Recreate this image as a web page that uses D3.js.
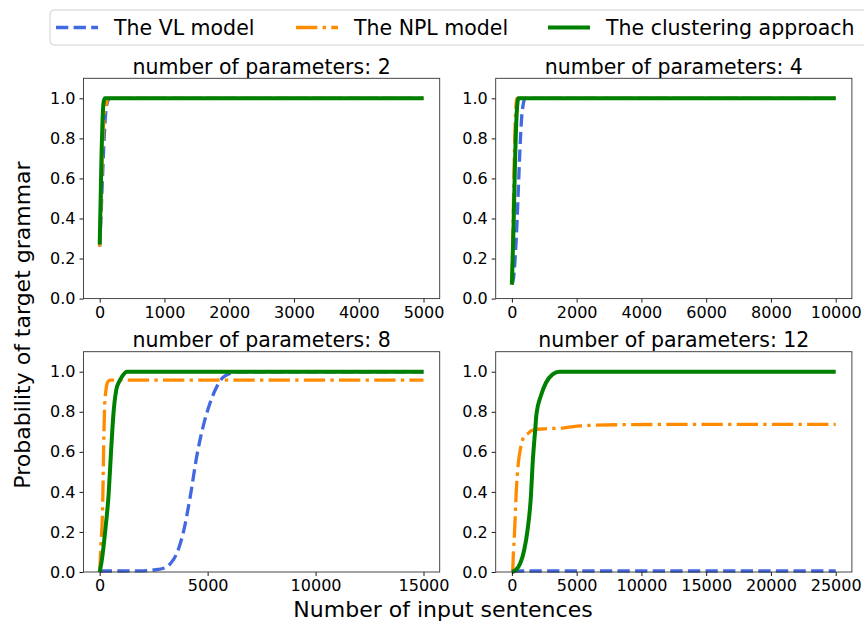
<!DOCTYPE html>
<html lang="en">
<head>
<meta charset="UTF-8">
<title>Probability of target grammar</title>
<script src="https://d3js.org/d3.v7.min.js"></script>
<style>
    body { margin: 0; background: #fff; }
    svg { font-family: "DejaVu Sans", sans-serif; }
</style>
</head>
<body>
<div id="chart"></div>
<script>
    // panel titles and x ranges
    const titles = ["number of parameters: 2", "number of parameters: 4",
                    "number of parameters: 8", "number of parameters: 12"];
    const xMax = [5000, 10000, 15000, 25000];
    const xTicks = [
        [0, 1000, 2000, 3000, 4000, 5000],
        [0, 2000, 4000, 6000, 8000, 10000],
        [0, 5000, 10000, 15000],
        [0, 5000, 10000, 15000, 20000, 25000]
    ];
    const yTicks = [0, 0.2, 0.4, 0.6, 0.8, 1.0];
    const seriesNames = ["The VL model", "The NPL model", "The clustering approach"];

    // panel 1 (2 parameters)
    const p1VlX = [0, 25, 50, 75, 100, 130, 160, 5000];
    const p1VlY = [0.26, 0.45, 0.66, 0.84, 0.95, 0.99, 1.0, 1.0];
    const p1NplX = [0, 20, 40, 60, 80, 100, 130, 5000];
    const p1NplY = [0.26, 0.48, 0.7, 0.87, 0.95, 0.97, 1.0, 1.0];
    const p1ClX = [0, 15, 30, 45, 60, 80, 5000];
    const p1ClY = [0.27, 0.5, 0.74, 0.9, 0.98, 1.0, 1.0];

    // panel 2 (4 parameters)
    const p2VlX = [0, 50, 100, 150, 200, 250, 300, 350, 400, 10000];
    const p2VlY = [0.07, 0.1, 0.2, 0.35, 0.55, 0.75, 0.9, 0.97, 1.0, 1.0];
    const p2NplX = [0, 40, 80, 120, 160, 10000];
    const p2NplY = [0.07, 0.4, 0.75, 0.95, 1.0, 1.0];
    const p2ClX = [0, 50, 100, 150, 200, 10000];
    const p2ClY = [0.07, 0.35, 0.7, 0.93, 1.0, 1.0];

    // panel 3 (8 parameters)
    const p3VlX = [0, 1000, 2000, 2500, 3000, 3300, 3600, 3900, 4200, 4500, 4800, 5100, 5400, 5700, 6000, 6300, 15000];
    const p3VlY = [0.005, 0.005, 0.006, 0.01, 0.02, 0.045, 0.1, 0.21, 0.38, 0.58, 0.73, 0.84, 0.92, 0.97, 0.99, 1.0, 1.0];
    const p3NplX = [0, 60, 140, 185, 230, 280, 340, 420, 500, 15000];
    const p3NplY = [0, 0.14, 0.34, 0.63, 0.83, 0.9, 0.94, 0.955, 0.958, 0.958];
    const p3ClX = [0, 100, 260, 415, 525, 645, 770, 900, 1030, 1260, 15000];
    const p3ClY = [0, 0.06, 0.21, 0.39, 0.6, 0.8, 0.91, 0.95, 0.975, 1.0, 1.0];

    // panel 4 (12 parameters)
    const p4VlX = [0, 25000];
    const p4VlY = [0.005, 0.005];
    const p4NplX = [0, 50, 120, 206, 335, 490, 644, 825, 1000, 1211, 1500, 1727, 2500, 4046, 5335, 9200, 15000, 25000];
    const p4NplY = [0, 0.0, 0.1, 0.2, 0.4, 0.54, 0.61, 0.66, 0.68, 0.69, 0.705, 0.71, 0.715, 0.72, 0.73, 0.736, 0.737, 0.737];
    const p4ClX = [0, 300, 640, 950, 1210, 1470, 1600, 1800, 1900, 2240, 2630, 3140, 3660, 25000];
    const p4ClY = [0, 0.01, 0.042, 0.11, 0.21, 0.38, 0.54, 0.71, 0.79, 0.88, 0.945, 0.987, 1.0, 1.0];

    const panelData = [
        [[p1VlX, p1VlY], [p1NplX, p1NplY], [p1ClX, p1ClY]],
        [[p2VlX, p2VlY], [p2NplX, p2NplY], [p2ClX, p2ClY]],
        [[p3VlX, p3VlY], [p3NplX, p3NplY], [p3ClX, p3ClY]],
        [[p4VlX, p4VlY], [p4NplX, p4NplY], [p4ClX, p4ClY]]
    ];

    const width = 864, height = 626;
    const colors = ["#4169e1", "#ff8c00", "#008000"];
    const dashes = ["12.3,5.3", "21.3,5.3,3.3,5.3", null];
    const widths = [3.3, 3.3, 4];

    const colLeft = [83.5, 495.7], rowTop = [78.3, 351.7];
    const pw = 356.2, ph = 220.3;

    const svg = d3.select("#chart").append("svg")
        .attr("width", width)
        .attr("height", height);

    panelData.forEach((series, i) => {
        const left = colLeft[i % 2], top = rowTop[Math.floor(i / 2)];
        const g = svg.append("g").attr("transform", `translate(${left},${top})`);

        const x = d3.scaleLinear()
            .domain([-0.05 * xMax[i], 1.05 * xMax[i]])
            .range([0, pw]);
        const y = d3.scaleLinear().domain([0, 1.1]).range([ph, 0]);

        // lines
        series.forEach((s, k) => {
            const pts = s[0].map((v, j) => [v, s[1][j]]);
            const line = d3.line()
                .x(d => x(d[0]))
                .y(d => y(d[1]))
                .curve(d3.curveMonotoneX);
            g.append("path")
                .datum(pts)
                .attr("d", line)
                .attr("fill", "none")
                .attr("stroke", colors[k])
                .attr("stroke-width", widths[k])
                .attr("stroke-dasharray", dashes[k]);
        });

        // axes
        const xAxis = g.append("g")
            .attr("transform", `translate(0,${ph})`)
            .call(d3.axisBottom(x).tickValues(xTicks[i]).tickFormat(d3.format("d"))
                .tickSize(4).tickPadding(4));
        const yAxis = g.append("g")
            .call(d3.axisLeft(y).tickValues(yTicks).tickFormat(d3.format(".1f"))
                .tickSize(4).tickPadding(4));
        [xAxis, yAxis].forEach(a => {
            a.select(".domain").remove();
            a.selectAll("text").style("font-size", "16px").attr("fill", "#000")
                .style("font-family", "DejaVu Sans");
            a.selectAll("line").attr("stroke", "#000").attr("stroke-width", 0.9);
        });

        g.append("rect")
            .attr("width", pw)
            .attr("height", ph)
            .attr("fill", "none")
            .attr("stroke", "#333")
            .attr("stroke-width", 0.9);

        g.append("text")
            .attr("x", pw / 2)
            .attr("y", -4.5)
            .attr("text-anchor", "middle")
            .style("font-size", "20.5px")
            .text(titles[i]);
    });

    // axis labels
    svg.append("text")
        .attr("x", 443)
        .attr("y", 617)
        .attr("text-anchor", "middle")
        .style("font-size", "22px")
        .text("Number of input sentences");

    svg.append("text")
        .attr("transform", "translate(30,325) rotate(-90)")
        .attr("text-anchor", "middle")
        .style("font-size", "22px")
        .text("Probability of target grammar");

    // legend
    const legend = svg.append("g");
    legend.append("rect")
        .attr("x", 50)
        .attr("y", 10)
        .attr("width", 830)
        .attr("height", 35)
        .attr("rx", 4)
        .attr("fill", "#fff")
        .attr("fill-opacity", 0.8)
        .attr("stroke", "#d0d0d0");

    const handleX = [56, 296, 548];
    seriesNames.forEach((name, k) => {
        legend.append("line")
            .attr("x1", handleX[k])
            .attr("x2", handleX[k] + 42)
            .attr("y1", 27.5)
            .attr("y2", 27.5)
            .attr("stroke", colors[k])
            .attr("stroke-width", widths[k])
            .attr("stroke-dasharray", dashes[k]);
        legend.append("text")
            .attr("x", handleX[k] + 58)
            .attr("y", 35)
            .style("font-size", "20.5px")
            .text(name);
    });
</script>
</body>
</html>
